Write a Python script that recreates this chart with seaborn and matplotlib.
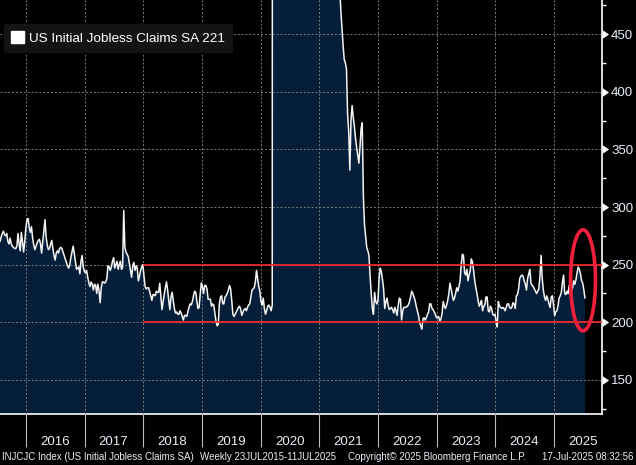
import matplotlib
matplotlib.use("Agg")
import matplotlib.pyplot as plt
import matplotlib.dates as mdates
from matplotlib.ticker import MultipleLocator
from matplotlib.patches import Ellipse, Patch
import numpy as np
import pandas as pd
import seaborn as sns

# ---------------- data (weekly, thousands) ----------------
start_date = "2015-07-25"

claims_2015_2017 = [
    270, 274, 277, 279, 276, 275, 277, 270, 268, 273,
    268, 266, 265, 264, 264, 266, 277, 268, 262, 278,
    270, 261, 270, 282, 289, 290, 282, 278, 283, 273,
    267, 263, 266, 269, 271, 272, 268, 260, 270, 279,
    289, 274, 267, 263, 264, 268, 271, 264, 258, 254,
    260, 262, 260, 264, 265, 264, 261, 258, 255, 252,
    249, 247, 250, 256, 261, 266, 260, 253, 246, 247,
    248, 242, 253, 258, 248, 244, 243, 245, 239, 234,
    231, 235, 233, 228, 233, 232, 225, 233, 228, 217,
    230, 235, 235, 234, 235, 238, 249, 248, 245, 248,
    253, 256, 247, 250, 253, 246, 250, 253, 246, 248,
    297, 265, 261, 259, 257, 251, 245, 239, 249, 252,
]

claims_2018_2020 = [
    245, 249, 247, 236, 240, 245, 248, 250, 240, 231,
    229, 230, 230, 227, 223, 219, 224, 224, 223, 227,
    226, 226, 234, 222, 211, 218, 224, 230, 235, 228,
    219, 211, 222, 226, 219, 212, 208, 209, 207, 207,
    210, 208, 205, 202, 206, 206, 205, 209, 213, 216,
    215, 218, 223, 227, 226, 218, 212, 213, 225, 234,
    231, 225, 232, 232, 229, 220, 220, 220, 214, 216,
    215, 208, 201, 197, 198, 216, 222, 223, 216, 216,
    222, 223, 225, 228, 232, 229, 219, 207, 205, 207,
    209, 211, 213, 214, 211, 206, 209, 211, 212, 210,
    213, 215, 216, 222, 228, 229, 230, 235, 245, 238,
    231, 227, 218, 215, 221, 212, 207, 210, 214, 215,
    213, 210, 215,
]

claims_pandemic = [
    2914, 6137, 6615, 5237, 4442, 3867, 3176, 2687, 2446, 2123,
    1897, 1566, 1540, 1482, 1427, 1310, 1307, 1422, 1263, 1191,
    971, 1104, 1011, 893, 893, 866, 873, 849, 845, 842,
    751, 758, 751, 711, 748, 787, 716, 862, 892, 806,
    790, 784, 926, 812, 779, 736, 848, 841, 758, 760,
    725, 781, 658, 728, 769, 586, 553, 540, 510, 490,
]

claims_2021 = [
    470, 455, 440, 428, 425, 420, 380, 365, 332, 375,
    388, 378, 370, 360, 352, 345, 338, 352, 368, 373,
    310, 285, 275, 265, 262, 258, 240, 225, 212, 207,
    226, 218, 216, 219, 238,
]

claims_2022_2025 = [
    247, 244, 237, 229, 212, 218, 221, 215, 211, 212,
    213, 211, 208, 213, 210, 206, 215, 221, 220, 202,
    210, 213, 213, 213, 214, 215, 218, 222, 227, 225,
    222, 219, 214, 210, 206, 200, 197, 194, 203, 204,
    202, 204, 207, 209, 216, 216, 212, 211, 209, 207,
    204, 204, 205, 201, 203, 208, 218, 214, 212, 215,
    219, 225, 234, 229, 224, 219, 221, 225, 230, 227,
    231, 236, 250, 259, 258, 243, 241, 246, 236, 241,
    245, 255, 252, 245, 236, 230, 225, 219, 214, 216,
    219, 210, 214, 215, 222, 222, 210, 209, 214, 212,
    207, 206, 207, 201, 196, 218, 214, 213, 212, 213,
    212, 210, 213, 216, 216, 213, 212, 213, 217, 216,
    212, 223, 224, 229, 238, 240, 241, 240, 236, 233,
    228, 238, 242, 246, 234, 232, 231, 229, 227, 225,
    227, 229, 240, 258, 238, 228, 222, 219, 223, 220,
    216, 213, 222, 223, 216, 206, 209, 210, 214, 221,
    223, 226, 235, 241, 225, 224, 227, 225, 232, 233,
    228, 230, 236, 233, 237, 243, 248, 246, 242, 236,
    234, 228, 221,
]

ref_levels = [200, 250]
ref_start = "2018-01-01"
series_label = "US Initial Jobless Claims SA 221"
footer_left = "INJCJC Index (US Initial Jobless Claims SA)"
footer_range = "Weekly 23JUL2015-11JUL2025"
footer_copy = "Copyright\u00a9 2025 Bloomberg Finance L.P."
footer_time = "17-Jul-2025 08:32:56"

claims = claims_2015_2017 + claims_2018_2020 + claims_pandemic + claims_2021 + claims_2022_2025
dates = pd.date_range(start_date, periods=len(claims), freq="W-SAT")
df = pd.DataFrame({"date": dates, "claims": claims})

# ---------------- style ----------------
sns.set_style("dark", rc={"axes.facecolor": "black", "figure.facecolor": "black"})
plt.rcParams["font.family"] = ["Liberation Sans", "DejaVu Sans"]

NAVY = "#051e3a"
RED = "#ff2a2a"
TXT = "#e8eef8"

W, H = 636, 465
fig = plt.figure(figsize=(W / 100, H / 100), dpi=100, facecolor="black")
ax = fig.add_axes([0, 51 / H, 602 / W, 414 / H])
ax.set_facecolor("black")

ax.fill_between(df["date"], df["claims"], 0, color=NAVY, linewidth=0, zorder=1)
sns.lineplot(data=df, x="date", y="claims", ax=ax, color="#f4f4f4",
             linewidth=1.1, zorder=3, legend=False)

x0 = pd.Timestamp(start_date)
x1 = pd.Timestamp("2025-10-26")
ax.set_xlim(x0, x1)
ax.set_ylim(120.5, 479.5)
ax.set_xlabel("")
ax.set_ylabel("")

# reference lines
ax.hlines(ref_levels, pd.Timestamp(ref_start), x1, colors=RED, linewidth=1.2, zorder=4)

# ellipse highlight
ell = Ellipse((mdates.date2num(pd.Timestamp("2025-06-30")), 236.4),
              width=155, height=87.6, fill=False, edgecolor="#f0203c",
              linewidth=2.6, zorder=5, clip_on=False)
ax.add_patch(ell)

# grid
ax.set_axisbelow(False)
ax.grid(False)
ax.yaxis.set_major_locator(MultipleLocator(50))
ax.yaxis.set_minor_locator(MultipleLocator(25))
ax.xaxis.set_major_locator(mdates.MonthLocator(bymonth=7, bymonthday=1))
ax.xaxis.set_major_formatter(mdates.DateFormatter("%Y"))
ax.xaxis.set_minor_locator(mdates.YearLocator())
ax.grid(True, which="major", axis="y", color="#7c7c7c", linestyle=(0, (2, 2)), linewidth=0.7, zorder=2.5)
ax.grid(True, which="minor", axis="x", color="#7c7c7c", linestyle=(0, (2, 2)), linewidth=0.7, zorder=2.5)

# spines
for s in ["left", "top"]:
    ax.spines[s].set_visible(False)
for s in ["bottom", "right"]:
    ax.spines[s].set_color("white")
    ax.spines[s].set_linewidth(1.2)

# y axis on the right
ax.yaxis.tick_right()
ax.tick_params(axis="y", which="major", length=5, width=0.5, colors="white",
               labelcolor=TXT, labelsize=9.5, pad=1.5, left=False, right=True)
ax.tick_params(axis="y", which="minor", length=3, width=1, colors="white",
               left=False, right=True)
for t in ax.yaxis.get_major_ticks():
    t.tick2line.set_marker(9)
    t.tick2line.set_markersize(5.5)
    t.tick2line.set_markerfacecolor("white")
    t.tick2line.set_markeredgecolor("white")

# x axis
ax.tick_params(axis="x", which="major", length=0, labelcolor=TXT, labelsize=9.5, pad=16)
ax.tick_params(axis="x", which="minor", length=24, width=0.8, colors="#bdbdbd",
               direction="out", bottom=True)

# legend
handle = Patch(facecolor="white", edgecolor="white")
leg = ax.legend([handle], [series_label], loc="upper left",
                bbox_to_anchor=(4 / 602, 1 - 24 / 414), borderaxespad=0,
                frameon=True, fancybox=True, facecolor="#141414", edgecolor="#141414",
                framealpha=1, fontsize=9.7, labelcolor="white",
                handlelength=0.9, handleheight=0.9, handletextpad=0.4, borderpad=0.55)
leg.set_zorder(6)

# footer
fy = 1 - 457 / H
fig.text(2 / W, fy, footer_left, color=TXT, fontsize=7.0, va="center", ha="left")
fig.text(199.6 / W, fy, footer_range, color=TXT, fontsize=7.0, va="center", ha="left")
fig.text(348 / W, fy, footer_copy, color=TXT, fontsize=7.0, va="center", ha="left")
fig.text(634 / W, fy, footer_time, color=TXT, fontsize=7.0, va="center", ha="right")

fig.savefig("out.png", dpi=100, facecolor="black")
